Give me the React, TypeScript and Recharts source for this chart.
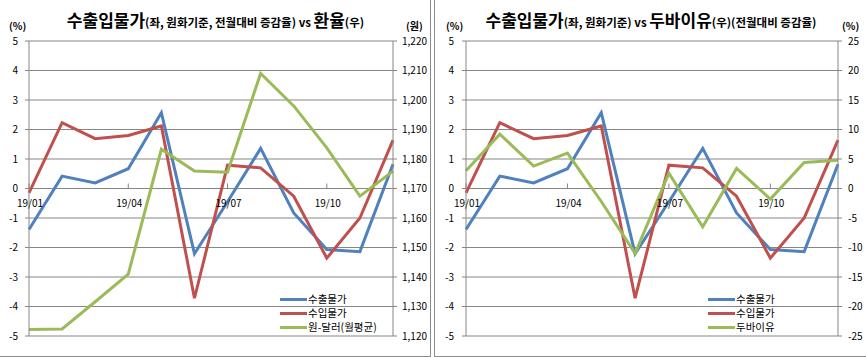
import React from 'react';
import { LineChart, Line, XAxis, YAxis, CartesianGrid } from 'recharts';

const months = ['19/01', '19/02', '19/03', '19/04', '19/05', '19/06', '19/07', '19/08', '19/09', '19/10', '19/11', '19/12'];
const exportPrice = [-1.39, 0.42, 0.19, 0.67, 2.57, -2.21, -0.45, 1.36, -0.83, -2.07, -2.14, 0.82];
const importPrice = [-0.15, 2.23, 1.69, 1.8, 2.12, -3.72, 0.79, 0.7, -0.26, -2.36, -1.0, 1.64];
const krwUsd = [1122.2, 1122.4, 1131.6, 1141.0, 1183.3, 1175.9, 1175.5, 1209.0, 1198.0, 1183.8, 1167.4, 1175.9];
const dubai = [3.0, 9.2, 3.8, 6.0, -2.2, -11.0, 2.6, -6.5, 3.4, -1.8, 4.4, 4.8];

const seriesNames = ['수출물가', '수입물가', '원-달러(월평균)', '두바이유'];
const pctTicks = [-5, -4, -3, -2, -1, 0, 1, 2, 3, 4, 5];
const fxTicks = [1120, 1130, 1140, 1150, 1160, 1170, 1180, 1190, 1200, 1210, 1220];
const dubaiTicks = [-25, -20, -15, -10, -5, 0, 5, 10, 15, 20, 25];

const BLUE = '#4F81BD';
const RED = '#C0504D';
const GREEN = '#9BBB59';
const GRID = '#868686';
const FONT = '"Noto Sans CJK KR", "Noto Sans", sans-serif';

const leftData = months.map((m, i) => ({ month: m, exp: exportPrice[i], imp: importPrice[i], fx: krwUsd[i] }));
const rightData = months.map((m, i) => ({ month: m, exp: exportPrice[i], imp: importPrice[i], oil: dubai[i] }));

const TOP = 41;
const H = 357;
const PLOT_H = 295;
const XH = 20;
const ZERO_Y = TOP + PLOT_H / 2;

const XTick = (props: any) => {
  const { x, payload } = props;
  return (
    <g>
      <line x1={x} x2={x} y1={ZERO_Y - 5} y2={ZERO_Y} stroke={GRID} strokeWidth={1} />
      <text x={x + 1} y={ZERO_Y + 18} textAnchor="middle" fontSize={10} fontFamily={FONT} fill="#000">
        {payload.value}
      </text>
    </g>
  );
};

const LegendBox = ({ items, left, top }: { items: { name: string; color: string }[]; left: number; top: number }) => (
  <div style={{ position: 'absolute', left, top, fontFamily: FONT, fontSize: 10.5, zIndex: 2 }}>
    {items.map((p) => (
      <div key={p.name} style={{ display: 'flex', alignItems: 'center', height: 14 }}>
        <div style={{ width: 27, height: 3, background: p.color, marginRight: 1 }} />
        <span style={{ color: '#000', display: 'inline-block', height: 14, lineHeight: '14px', whiteSpace: 'nowrap' }}>{p.name}</span>
      </div>
    ))}
  </div>
);

const tickStyle = { fontSize: 10, fontFamily: FONT, fill: '#000' };

const Title = ({ children, left, width }: any) => (
  <div
    style={{
      position: 'absolute',
      left,
      width,
      top: 9,
      textAlign: 'center',
      fontFamily: FONT,
      fontWeight: 700,
      lineHeight: '22px',
      whiteSpace: 'nowrap',
      color: '#000',
      zIndex: 2,
    }}
  >
    {children}
  </div>
);

const Big = ({ children }: any) => <span style={{ fontSize: 17 }}>{children}</span>;
const Small = ({ children }: any) => <span style={{ fontSize: 11.5 }}>{children}</span>;

const Unit = ({ left, children }: any) => (
  <div
    style={{
      position: 'absolute',
      left,
      top: 18,
      fontFamily: FONT,
      fontWeight: 700,
      fontSize: 10,
      color: '#000',
      zIndex: 2,
    }}
  >
    {children}
  </div>
);

export default function App() {
  return (
    <div style={{ position: 'absolute', left: 0, top: 0, width: 866, height: 357, background: '#fff', overflow: 'hidden' }}>
      {/* Left chart */}
      <div style={{ position: 'absolute', left: 0, top: 0, width: 431, height: 357, boxSizing: 'border-box', borderRight: '1px solid #8c8c8c', borderBottom: '1px solid #8c8c8c' }}>
        <Title left={0} width={431}>
          <Big>수출입물가</Big>
          <Small>(좌, 원화기준, 전월대비 증감율) vs </Small>
          <Big>환율</Big>
          <Small>(우)</Small>
        </Title>
        <Unit left={9}>(%)</Unit>
        <Unit left={406}>(원)</Unit>
        <LineChart width={431} height={H} data={leftData} margin={{ top: TOP, right: 6, bottom: H - TOP - PLOT_H - XH, left: 0 }}>
          <CartesianGrid yAxisId="l" vertical={false} stroke={GRID} strokeWidth={1} />
          <XAxis dataKey="month" height={XH} axisLine={false} tickLine={false} tickSize={0} tickMargin={0} interval={2} tick={(p: any) => <XTick {...p} />} />
          <YAxis yAxisId="l" width={29} domain={[-5, 5]} ticks={pctTicks} interval={0} tick={tickStyle} axisLine={{ stroke: GRID }} tickLine={{ stroke: GRID }} tickSize={4} tickMargin={7} />
          <YAxis yAxisId="r" orientation="right" width={32} domain={[1120, 1220]} ticks={fxTicks} interval={0} tick={{ ...tickStyle, textAnchor: 'start' }} axisLine={{ stroke: GRID }} tickLine={{ stroke: GRID }} tickSize={4} tickMargin={5} tickFormatter={(v: number) => v.toLocaleString('en-US')} />
          <Line yAxisId="l" dataKey="exp" name={seriesNames[0]} stroke={BLUE} strokeWidth={3} dot={false} isAnimationActive={false} />
          <Line yAxisId="l" dataKey="imp" name={seriesNames[1]} stroke={RED} strokeWidth={3} dot={false} isAnimationActive={false} />
          <Line yAxisId="r" dataKey="fx" name={seriesNames[2]} stroke={GREEN} strokeWidth={3} dot={false} isAnimationActive={false} />
        </LineChart>
        <LegendBox
          left={280}
          top={292}
          items={[
            { name: seriesNames[0], color: BLUE },
            { name: seriesNames[1], color: RED },
            { name: seriesNames[2], color: GREEN },
          ]}
        />
      </div>

      {/* Right chart */}
      <div style={{ position: 'absolute', left: 434, top: 0, width: 432, height: 357, boxSizing: 'border-box', borderLeft: '1px solid #8c8c8c', borderBottom: '1px solid #8c8c8c' }}>
        <Title left={0} width={432}>
          <Big>수출입물가</Big>
          <Small>(좌, 원화기준) vs </Small>
          <Big>두바이유</Big>
          <Small>(우)(전월대비 증감율)</Small>
        </Title>
        <Unit left={11}>(%)</Unit>
        <Unit left={407}>(%)</Unit>
        <LineChart width={432} height={H} data={rightData} margin={{ top: TOP, right: 6, bottom: H - TOP - PLOT_H - XH, left: 0 }}>
          <CartesianGrid yAxisId="l" vertical={false} stroke={GRID} strokeWidth={1} />
          <XAxis dataKey="month" height={XH} axisLine={false} tickLine={false} tickSize={0} tickMargin={0} interval={2} tick={(p: any) => <XTick {...p} />} />
          <YAxis yAxisId="l" width={31} domain={[-5, 5]} ticks={pctTicks} interval={0} tick={tickStyle} axisLine={{ stroke: GRID }} tickLine={{ stroke: GRID }} tickSize={4} tickMargin={8} />
          <YAxis yAxisId="r" orientation="right" width={23} domain={[-25, 25]} ticks={dubaiTicks} interval={0} tick={{ ...tickStyle, textAnchor: 'start' }} axisLine={{ stroke: GRID }} tickLine={{ stroke: GRID }} tickSize={4} tickMargin={6} />
          <Line yAxisId="l" dataKey="exp" name={seriesNames[0]} stroke={BLUE} strokeWidth={3} dot={false} isAnimationActive={false} />
          <Line yAxisId="l" dataKey="imp" name={seriesNames[1]} stroke={RED} strokeWidth={3} dot={false} isAnimationActive={false} />
          <Line yAxisId="r" dataKey="oil" name={seriesNames[3]} stroke={GREEN} strokeWidth={3} dot={false} isAnimationActive={false} />
        </LineChart>
        <LegendBox
          left={273}
          top={292}
          items={[
            { name: seriesNames[0], color: BLUE },
            { name: seriesNames[1], color: RED },
            { name: seriesNames[3], color: GREEN },
          ]}
        />
      </div>
    </div>
  );
}
